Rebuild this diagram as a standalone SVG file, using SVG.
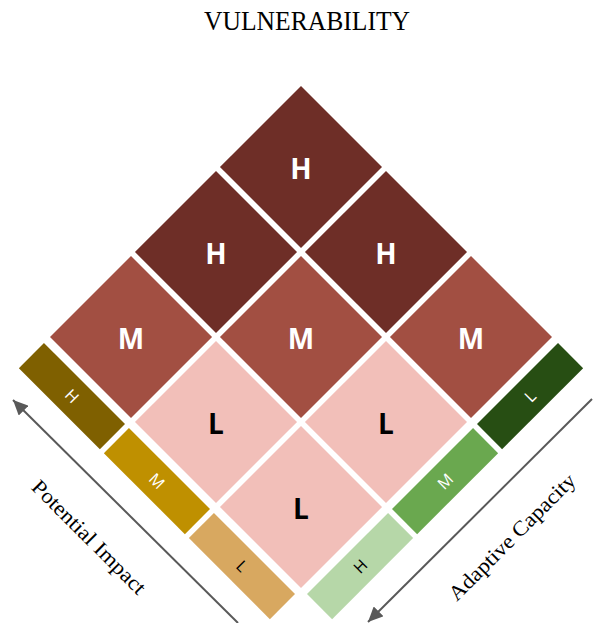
<svg xmlns="http://www.w3.org/2000/svg" width="595" height="623" viewBox="0 0 595 623">
<style>
.h{fill:#6e2e27}.m{fill:#a24f42}.l{fill:#f2bfb9}
.big{font-family:"Open Sans","Noto Sans",sans-serif;font-weight:bold;font-size:28px;text-anchor:middle}
.w{fill:#ffffff}.k{fill:#000000}
.bt{font-family:"Open Sans","Noto Sans",sans-serif;font-size:16px;text-anchor:middle}
.ax{font-family:"Liberation Serif",serif;font-size:21px;text-anchor:middle;fill:#000}
.arr{stroke:#595959;stroke-width:2;fill:none}
</style>
<defs>
<marker id="ah" markerUnits="userSpaceOnUse" markerWidth="16" markerHeight="14" refX="15" refY="7" orient="auto">
<path d="M0,0 L15,7 L0,14 z" fill="#595959"/>
</marker>
</defs>
<rect width="595" height="623" fill="#ffffff"/>
<text x="307" y="30" font-family="Liberation Serif,serif" font-size="27" text-anchor="middle" textLength="206" lengthAdjust="spacingAndGlyphs" fill="#000">VULNERABILITY</text>
<g id="grid" transform="translate(301,86) rotate(45)">
<g id="cell-h1"><rect class="h" x="0" y="0" width="114.6" height="114.6"/></g>
<g id="cell-h2"><rect class="h" x="0" y="120.2" width="114.6" height="114.6"/></g>
<g id="cell-h3"><rect class="h" x="120.2" y="0" width="114.6" height="114.6"/></g>
<g id="cell-m1"><rect class="m" x="0" y="240.4" width="114.6" height="114.6"/></g>
<g id="cell-m2"><rect class="m" x="120.2" y="120.2" width="114.6" height="114.6"/></g>
<g id="cell-m3"><rect class="m" x="240.4" y="0" width="114.6" height="114.6"/></g>
<g id="cell-l1"><rect class="l" x="120.2" y="240.4" width="114.6" height="114.6"/></g>
<g id="cell-l2"><rect class="l" x="240.4" y="120.2" width="114.6" height="114.6"/></g>
<g id="cell-l3"><rect class="l" x="240.4" y="240.4" width="114.6" height="114.6"/></g>
<g id="pi-h"><rect x="0" y="363.5" width="114.6" height="35.5" fill="#7f6000"/><text class="bt w" x="57.3" y="387">H</text></g>
<g id="pi-m"><rect x="120.2" y="363.5" width="114.6" height="35.5" fill="#bf9000"/><text class="bt w" x="177.5" y="387">M</text></g>
<g id="pi-l"><rect x="240.4" y="363.5" width="114.6" height="35.5" fill="#d8a860"/><text class="bt k" x="297.7" y="387">L</text></g>
<g id="ac-l"><rect x="363.5" y="0" width="35.5" height="114.6" fill="#274e13"/><text class="bt w" transform="translate(381.25,57.3) rotate(-90)" y="6">L</text></g>
<g id="ac-m"><rect x="363.5" y="120.2" width="35.5" height="114.6" fill="#6aa84f"/><text class="bt w" transform="translate(381.25,177.5) rotate(-90)" y="6">M</text></g>
<g id="ac-h"><rect x="363.5" y="240.4" width="35.5" height="114.6" fill="#b6d7a8"/><text class="bt k" transform="translate(381.25,297.7) rotate(-90)" y="6">H</text></g>
</g>
<g id="letters">
<text class="big w" x="301" y="179">H</text>
<text class="big w" x="216" y="264">H</text>
<text class="big w" x="386" y="264">H</text>
<text class="big w" x="131" y="349">M</text>
<text class="big w" x="301" y="349">M</text>
<text class="big w" x="471" y="349">M</text>
<text class="big k" x="216" y="434">L</text>
<text class="big k" x="386" y="434">L</text>
<text class="big k" x="301" y="519">L</text>
</g>
<g id="connectors">
<path class="arr" d="M238,623 L13,400" marker-end="url(#ah)"/>
<path class="arr" d="M592,399 L368,622" marker-end="url(#ah)"/>
</g>
<text class="ax" transform="translate(89,537) rotate(45)" y="7" textLength="152" lengthAdjust="spacingAndGlyphs">Potential Impact</text>
<text class="ax" transform="translate(512,537) rotate(-45)" y="7" textLength="170" lengthAdjust="spacingAndGlyphs">Adaptive Capacity</text>
</svg>
